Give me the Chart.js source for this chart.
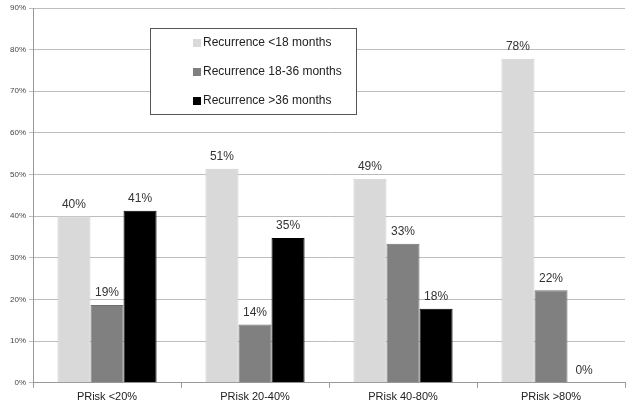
<!DOCTYPE html>
<html>
<head>
<meta charset="utf-8">
<script src="https://cdn.jsdelivr.net/npm/chart.js@4/dist/chart.umd.min.js"></script>
<style>
  html, body { margin: 0; padding: 0; background: #fff; }
  #wrap { width: 632px; height: 408px; }
</style>
</head>
<body>
<div id="wrap"><canvas id="chart" width="632" height="408"></canvas></div>
<script>
// data
const categories = ["PRisk <20%", "PRisk 20-40%", "PRisk 40-80%", "PRisk >80%"];
const seriesNames = ["Recurrence <18 months", "Recurrence 18-36 months", "Recurrence >36 months"];
const under18 = [40.0, 51.4, 49.0, 77.8];
const from18to36 = [18.7, 14.0, 33.4, 22.2];
const over36 = [41.3, 34.8, 17.8, 0];
const yTicks = [0, 10, 20, 30, 40, 50, 60, 70, 80, 90];

const colors = ["#d9d9d9", "#808080", "#000000"];
const borders = ["#cfcfcf", "#6f6f6f", "#000000"];

// labels above each bar
const barLabels = {
  id: "barLabels",
  afterDatasetsDraw(chart) {
    const ctx = chart.ctx;
    ctx.save();
    ctx.font = "12px 'Liberation Sans', Arial, sans-serif";
    ctx.fillStyle = "#333";
    ctx.textAlign = "center";
    ctx.textBaseline = "bottom";
    chart.data.datasets.forEach((ds, i) => {
      chart.getDatasetMeta(i).data.forEach((bar, j) => {
        ctx.fillText(Math.round(ds.data[j]) + "%", bar.x, bar.y - 6);
      });
    });
    ctx.restore();
  }
};

// boxed legend inside the plot
const boxLegend = {
  id: "boxLegend",
  afterDraw(chart) {
    const ctx = chart.ctx;
    const x = 150, y = 28, w = 206, h = 86;
    ctx.save();
    ctx.fillStyle = "#fff";
    ctx.fillRect(x, y, w, h);
    ctx.strokeStyle = "#555";
    ctx.lineWidth = 1;
    ctx.strokeRect(x + 0.5, y + 0.5, w, h);
    ctx.font = "12px 'Liberation Sans', Arial, sans-serif";
    ctx.textBaseline = "middle";
    chart.data.datasets.forEach((ds, i) => {
      const cy = y + 15 + i * 29;
      ctx.fillStyle = ds.backgroundColor;
      ctx.fillRect(x + 43, cy - 4, 8, 8);
      ctx.fillStyle = "#222";
      ctx.fillText(ds.label, x + 53, cy);
    });
    ctx.restore();
  }
};

new Chart(document.getElementById("chart"), {
  type: "bar",
  data: {
    labels: categories,
    datasets: [
      { label: seriesNames[0], data: under18, backgroundColor: colors[0], borderColor: borders[0], borderWidth: 1 },
      { label: seriesNames[1], data: from18to36, backgroundColor: colors[1], borderColor: borders[1], borderWidth: 1 },
      { label: seriesNames[2], data: over36, backgroundColor: colors[2], borderColor: borders[2], borderWidth: 1 }
    ]
  },
  options: {
    responsive: false,
    animation: false,
    layout: { padding: { top: 8, right: 7, left: 0, bottom: 1 } },
    datasets: { bar: { categoryPercentage: 0.67, barPercentage: 1.0 } },
    plugins: {
      legend: { display: false },
      tooltip: { enabled: false }
    },
    scales: {
      x: {
        grid: { offset: true, drawOnChartArea: false, drawTicks: true, tickLength: 5, color: "#999" },
        border: { color: "#999" },
        ticks: { color: "#222", font: { family: "'Liberation Sans', Arial, sans-serif", size: 11 }, padding: 3 }
      },
      y: {
        min: 0,
        max: 90,
        afterBuildTicks(scale) { scale.ticks = yTicks.map(v => ({ value: v })); },
        afterFit(scale) { scale.width = 33; },
        grid: { color: "#bdbdbd", tickLength: 4 },
        border: { color: "#999" },
        ticks: {
          color: "#444",
          font: { family: "'Liberation Sans', Arial, sans-serif", size: 8 },
          padding: 3,
          callback: v => v + "%"
        }
      }
    }
  },
  plugins: [barLabels, boxLegend]
});
</script>
</body>
</html>
